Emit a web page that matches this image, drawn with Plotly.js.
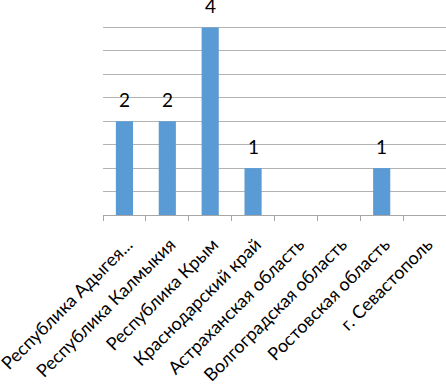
<!DOCTYPE html>
<html><head><meta charset="utf-8">
<script src="https://cdn.plot.ly/plotly-3.0.1.min.js"></script>
<style>html,body{margin:0;padding:0;background:#fff}#chart{width:446px;height:385px}</style>
</head><body><div id="chart"></div>
<script>
const categories = ["Республика Адыгея...", "Республика Калмыкия", "Республика Крым", "Краснодарский край", "Астраханская область", "Волгоградская область", "Ростовская область", "г. Севастополь"];
const values = [2, 2, 4, 1, 0, 0, 1, 0];

const annotations = categories.map((c, i) => values[i] === 0 ? null : {
  x: c, y: values[i], xref: "x", yref: "y",
  text: String(values[i]), showarrow: false,
  yanchor: "bottom", yshift: 8,
  font: {family: "Lato, sans-serif", size: 19, color: "#000"}
}).filter(a => a);

Plotly.newPlot("chart", [{
  type: "bar",
  x: categories,
  y: values,
  marker: {color: "#5b9bd5"},
  hoverinfo: "none"
}], {
  width: 446, height: 385,
  margin: {l: 103, r: 0, t: 4, b: 170},
  paper_bgcolor: "#fff", plot_bgcolor: "#fff",
  bargap: 0.6,
  showlegend: false,
  annotations: annotations,
  font: {family: "Lato, sans-serif", size: 18, color: "#000"},
  xaxis: {
    type: "category",
    tickangle: -45,
    showline: true, linecolor: "#a6a6a6", linewidth: 1,
    ticks: "outside", tickson: "boundaries", ticklen: 5, tickcolor: "#a6a6a6",
    ticklabelstandoff: 11,
    ticklabelshift: 3,
    showgrid: false,
    tickfont: {family: "Lato, sans-serif", size: 18, color: "#000"}
  },
  yaxis: {
    range: [0, 4.5], dtick: 0.5,
    showticklabels: false, showgrid: true, gridcolor: "#b3b3b3", gridwidth: 1,
    zeroline: false, showline: false, ticks: ""
  }
}, {displayModeBar: false, staticPlot: true});
</script></body></html>
